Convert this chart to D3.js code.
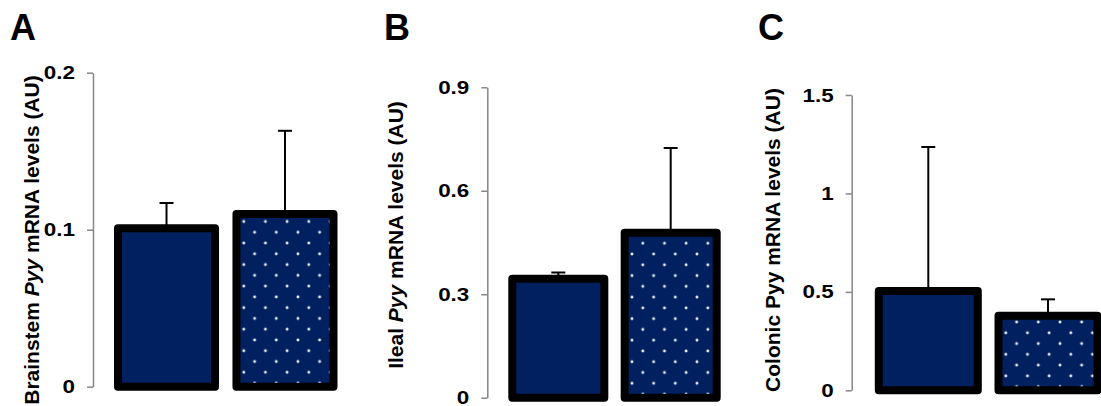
<!DOCTYPE html>
<html>
<head>
<meta charset="utf-8">
<script src="https://cdn.jsdelivr.net/npm/d3@7"></script>
<style>
  html, body { margin: 0; padding: 0; background: #fff; }
  svg { display: block; }
  text { font-family: "Liberation Sans", Arial, sans-serif; font-weight: bold; fill: #000; }
</style>
</head>
<body>
<svg id="chart" width="1101" height="406"></svg>
<script>
// Groups shown in every panel: solid bar, then dotted bar
const groups = ["solid", "dotted"];

// Panel A – brainstem
const brainstemMean = [0.101, 0.110];
const brainstemSem  = [0.016, 0.053];
const brainstemTicks = [0, 0.1, 0.2];
const brainstemTickLabels = ["0", "0.1", "0.2"];

// Panel B – ileum
const ilealMean = [0.345, 0.478];
const ilealSem  = [0.018, 0.246];
const ilealTicks = [0, 0.3, 0.6, 0.9];
const ilealTickLabels = ["0", "0.3", "0.6", "0.9"];

// Panel C – colon
const colonicMean = [0.505, 0.379];
const colonicSem  = [0.731, 0.083];
const colonicTicks = [0, 0.5, 1, 1.5];
const colonicTickLabels = ["0", "0.5", "1", "1.5"];

const NAVY = "#002060";
const TICK_STRETCH = 1.18;  // tick numerals are drawn slightly wide
const LABEL_OFFSET = 18;    // tick length + gap to the numeral

const panels = [
  { letter: "A", letterX: 10, mean: brainstemMean, sem: brainstemSem,
    ticks: brainstemTicks, tickLabels: brainstemTickLabels,
    titleParts: [["Brainstem ", false], ["Pyy", true], [" mRNA levels (AU)", false]],
    titleX: 38.5, titleY: 240,
    axisX: 93, y0: 386.7, y1: 72.7,
    band: [118, 333.5], padIn: 0.181 },
  { letter: "B", letterX: 384, mean: ilealMean, sem: ilealSem,
    ticks: ilealTicks, tickLabels: ilealTickLabels,
    titleParts: [["Ileal ", false], ["Pyy", true], [" mRNA levels (AU)", false]],
    titleX: 403.3, titleY: 235,
    axisX: 487.3, y0: 397.7, y1: 87.3,
    band: [512.3, 716.7], padIn: 0.181 },
  { letter: "C", letterX: 758, mean: colonicMean, sem: colonicSem,
    ticks: colonicTicks, tickLabels: colonicTickLabels,
    titleParts: [["Colonic Pyy mRNA levels (AU)", false]],
    titleX: 779.5, titleY: 240,
    axisX: 851.7, y0: 390.3, y1: 95,
    band: [878.8, 1097.5], padIn: 0.173 }
];

const svg = d3.select("#chart");
const defs = svg.append("defs");

panels.forEach((p, pi) => {
  const top = p.ticks[p.ticks.length - 1];
  const y = d3.scaleLinear().domain([0, top]).range([p.y0, p.y1]);
  const x = d3.scaleBand().domain(groups).range(p.band).paddingInner(p.padIn).paddingOuter(0);
  const g = svg.append("g");

  // Panel letter
  g.append("text")
    .attr("x", p.letterX).attr("y", 40)
    .attr("font-size", 36)
    .text(p.letter);

  // Y axis title (rotated)
  const title = g.append("text")
    .attr("transform", `translate(${p.titleX},${p.titleY}) rotate(-90)`)
    .attr("text-anchor", "middle")
    .attr("font-size", 21);
  p.titleParts.forEach(([s, it]) => {
    title.append("tspan").attr("font-style", it ? "italic" : "normal").text(s);
  });

  // Y axis
  const axis = d3.axisLeft(y)
    .tickValues(p.ticks)
    .tickFormat((d, i) => p.tickLabels[i])
    .tickSize(6)
    .tickSizeOuter(0)
    .tickPadding(12);
  const ag = g.append("g").attr("transform", `translate(${p.axisX},0)`).call(axis);
  ag.select(".domain").attr("stroke", "#868686").attr("stroke-width", 1.5);
  ag.selectAll(".tick line").attr("stroke", "#868686").attr("stroke-width", 1.5);
  ag.selectAll(".tick text")
    .attr("font-size", 19)
    .attr("x", -LABEL_OFFSET / TICK_STRETCH)
    .attr("transform", `scale(${TICK_STRETCH},1)`)
    .attr("font-family", "'Liberation Sans', Arial, sans-serif")
    .attr("font-weight", "bold")
    .attr("fill", "#000");

  const data = groups.map((k, i) => ({ key: k, mean: p.mean[i], sem: p.sem[i], i }));

  // Dotted fill pattern for the second bar, anchored to its baseline
  const pid = `dots-${pi}`;
  const bx = x("dotted");
  const W = 21.67, H = 21.54;
  const pat = defs.append("pattern")
    .attr("id", pid)
    .attr("patternUnits", "userSpaceOnUse")
    .attr("width", W).attr("height", H)
    .attr("x", bx + 7.3).attr("y", p.y0 - 14.4);
  pat.append("rect").attr("width", W).attr("height", H).attr("fill", NAVY);
  [[0, 0], [W, 0], [0, H], [W, H], [W / 2, H / 2]].forEach(([cx, cy]) => {
    pat.append("circle").attr("cx", cx).attr("cy", cy).attr("r", 1.45).attr("fill", "#eef1f7");
  });

  // Error bars (upper only)
  const eb = g.append("g").selectAll("g").data(data).join("g")
    .attr("stroke", "#000").attr("stroke-width", 2);
  eb.append("line")
    .attr("x1", d => x(d.key) + x.bandwidth() / 2)
    .attr("x2", d => x(d.key) + x.bandwidth() / 2)
    .attr("y1", d => y(d.mean))
    .attr("y2", d => y(d.mean + d.sem));
  eb.append("line")
    .attr("x1", d => x(d.key) + x.bandwidth() / 2 - 7)
    .attr("x2", d => x(d.key) + x.bandwidth() / 2 + 7)
    .attr("y1", d => y(d.mean + d.sem))
    .attr("y2", d => y(d.mean + d.sem));

  // Bars
  g.append("g").selectAll("rect").data(data).join("rect")
    .attr("x", d => x(d.key))
    .attr("width", x.bandwidth())
    .attr("y", d => y(d.mean))
    .attr("height", d => y(0) - y(d.mean))
    .attr("fill", d => d.key === "dotted" ? `url(#${pid})` : NAVY)
    .attr("stroke", "#000")
    .attr("stroke-width", 8)
    .attr("stroke-linejoin", "round");
});
</script>
</body>
</html>
